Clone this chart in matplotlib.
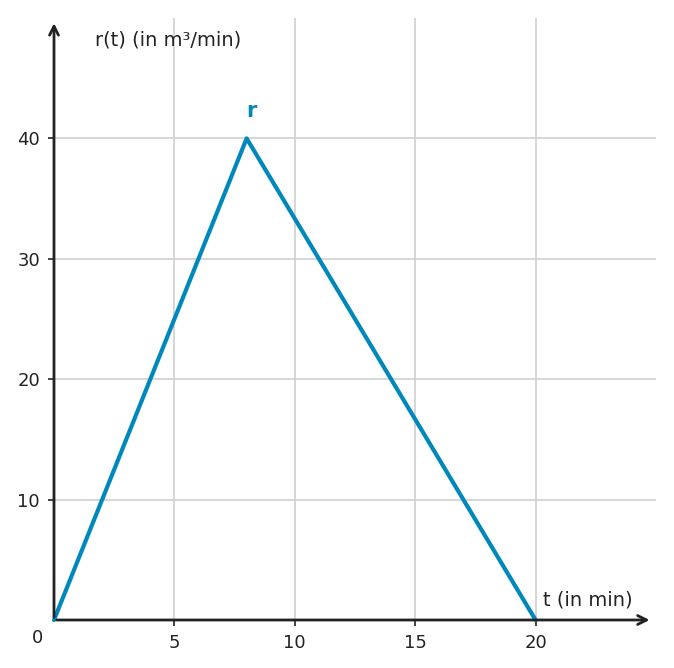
import matplotlib.pyplot as plt

t = [0, 8, 20]
r = [0, 40, 0]
xticks = [5, 10, 15, 20]
yticks = [10, 20, 30, 40]

fig = plt.figure(figsize=(6.74, 6.68), dpi=100)
ax = fig.add_axes([54/674, 48/668, 602/674, 602/668])
ax.set_xlim(0, 25)
ax.set_ylim(0, 50)
for s in ax.spines.values():
	s.set_visible(False)

for x in xticks:
	ax.axvline(x, color='#d0d0d0', lw=1.2, zorder=0)
for y in yticks:
	ax.axhline(y, color='#d0d0d0', lw=1.2, zorder=0)

ax.set_xticks(xticks)
ax.set_yticks(yticks)
ax.tick_params(length=4, width=1.2, color='#222222', labelsize=13, labelcolor='#222222', pad=6)

arrow = dict(arrowstyle='->', color='#222222', lw=2, mutation_scale=16)
ax.annotate('', xy=(24.85, 0), xytext=(0, 0), arrowprops=arrow, annotation_clip=False)
ax.annotate('', xy=(0, 49.8), xytext=(0, 0), arrowprops=arrow, annotation_clip=False)

ax.plot(t, r, color='#0088bb', lw=3, solid_capstyle='round', clip_on=False)
ax.text(8.2, 42.3, 'r', color='#0088bb', fontsize=15, fontweight='bold', ha='center', va='center')

ax.text(-0.7, -1.5, '0', fontsize=13, color='#222222', ha='center', va='center')
ax.text(20.3, 1.7, 't (in min)', fontsize=14, color='#222222', ha='left', va='center')
ax.text(1.7, 48.2, 'r(t) (in m³/min)', fontsize=14, color='#222222', ha='left', va='center')

fig.savefig('out.png')
